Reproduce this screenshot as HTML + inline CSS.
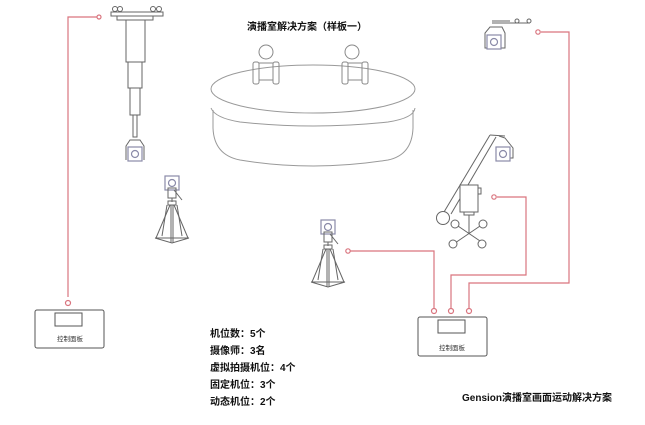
<!DOCTYPE html>
<html><head><meta charset="utf-8"><style>
html,body{margin:0;padding:0;background:#fff;}
svg{display:block;}
text{font-family:"Liberation Sans","Noto Sans CJK SC",sans-serif;}
</style></head><body>
<svg width="645" height="425" viewBox="0 0 645 425" xmlns="http://www.w3.org/2000/svg">
<rect width="645" height="425" fill="#fff"/>
<defs>
<g id="cam"><rect x="-7" y="-7" width="14" height="14" fill="#fff" stroke="#8a8aa8" stroke-width="1.2"/><circle cx="0" cy="0" r="3.5" fill="none" stroke="#8a8aa8" stroke-width="1.2"/></g>
<g id="tripod" stroke="#666" stroke-width="1" fill="none">
<rect x="-4" y="0" width="8" height="10"/><line x1="2" y1="2" x2="10" y2="12"/>
<line x1="0" y1="10" x2="0" y2="14"/><rect x="-4" y="13" width="8" height="4"/>
<line x1="-2" y1="17" x2="-16" y2="50"/><line x1="2" y1="17" x2="16" y2="50"/>
<line x1="-1" y1="17" x2="-1" y2="55"/><line x1="1" y1="17" x2="1" y2="55"/>
<line x1="-5" y1="17" x2="-10" y2="48"/><line x1="5" y1="17" x2="10" y2="48"/>
<polyline points="-17,50 0,55 17,50 -17,50"/>
</g>
</defs>

<g stroke="#d9747e" stroke-width="1.2" fill="none">
<polyline points="97,17 68,17 68,297"/>
<circle cx="99" cy="17" r="2" fill="#fff"/>
<circle cx="68" cy="303" r="2.5" fill="#fff"/>
<polyline points="350,251 434,251 434,308"/>
<circle cx="348" cy="251" r="2.2" fill="#fff"/>
<circle cx="434" cy="311" r="2.5" fill="#fff"/>
<polyline points="451,308 451,275 526,275 526,197 497,197"/>
<circle cx="494" cy="197" r="2.2" fill="#fff"/>
<circle cx="451" cy="311" r="2.5" fill="#fff"/>
<polyline points="469,308 469,283 569,283 569,32 541,32"/>
<circle cx="538" cy="32" r="2.2" fill="#fff"/>
<circle cx="469" cy="311" r="2.5" fill="#fff"/>
</g>

<g stroke="#555" stroke-width="1" fill="#fff">
<rect x="35" y="310" width="69" height="38" rx="2"/>
<rect x="55" y="313" width="27" height="13"/>
<rect x="418" y="317" width="69" height="39" rx="2"/>
<rect x="438" y="320" width="27" height="13"/>
</g>
<text x="70" y="341" font-size="6.5" text-anchor="middle" fill="#333">控制面板</text>
<text x="452" y="350" font-size="6.5" text-anchor="middle" fill="#333">控制面板</text>

<text x="307" y="30" font-size="10" font-weight="bold" text-anchor="middle" fill="#111">演播室解决方案（样板一）</text>

<g stroke="#999" stroke-width="1" fill="none">
<path d="M213,110 L213,128 Q214,155 240,160 Q313,172 388,160 Q412,155 413,128 L413,110"/>
<path d="M211,108 Q215,118 240,122 Q313,130 388,122 Q414,118 415,108"/>
<ellipse cx="313" cy="89" rx="102" ry="24" fill="#fff"/>
</g>
<g stroke="#888" stroke-width="1" fill="none">
<circle cx="266" cy="52" r="7"/>
<rect x="253" y="62" width="6" height="22" rx="2"/>
<rect x="273" y="62" width="6" height="22" rx="2"/>
<line x1="259" y1="63" x2="273" y2="63"/><line x1="259" y1="80" x2="273" y2="80"/>
<circle cx="352" cy="52" r="7"/>
<rect x="342" y="62" width="6" height="22" rx="2"/>
<rect x="362" y="62" width="6" height="22" rx="2"/>
<line x1="348" y1="63" x2="362" y2="63"/><line x1="348" y1="80" x2="362" y2="80"/>
</g>

<g stroke="#666" stroke-width="1" fill="#fff">
<circle cx="115" cy="9" r="2.5"/><circle cx="120" cy="9" r="2.5"/>
<circle cx="153" cy="9" r="2.5"/><circle cx="159" cy="9" r="2.5"/>
<rect x="111" y="12" width="52" height="4"/>
<rect x="117" y="16" width="36" height="4"/>
<rect x="126" y="20" width="19" height="42"/>
<rect x="128" y="62" width="14" height="26"/>
<rect x="130" y="88" width="10" height="27"/>
<rect x="133" y="115" width="4" height="22"/>
<path d="M126,160 L126,146 L130,140 L140,140 L144,146 L144,160"/>
</g>
<use href="#cam" x="135" y="154"/>

<use href="#cam" x="172" y="183"/>
<use href="#tripod" x="172" y="188"/>
<use href="#cam" x="328" y="227"/>
<use href="#tripod" x="328" y="232"/>

<g stroke="#666" stroke-width="1" fill="#fff">
<line x1="492" y1="23" x2="530" y2="23"/>
<line x1="492" y1="21" x2="510" y2="21"/>
<circle cx="517" cy="21" r="2"/><circle cx="529" cy="21" r="2"/>
<path d="M485,48 L485,33 L490,27 L502,27 L505,33 L505,48 Z"/>
</g>
<use href="#cam" x="494" y="42"/>

<g stroke="#666" stroke-width="1" fill="#fff">
<line x1="444" y1="212" x2="490" y2="135"/>
<line x1="451" y1="214" x2="496" y2="137"/>
<line x1="490" y1="135" x2="505" y2="136"/>
<path d="M499,136 L505,138 L513,148 L513,158 L502,158"/>
<circle cx="443" cy="218" r="6.5"/>
<rect x="460" y="185" width="18" height="27"/>
<rect x="478" y="188" width="3" height="6"/>
<rect x="464" y="212" width="10" height="3"/>
<line x1="469" y1="215" x2="469" y2="234"/>
<line x1="455" y1="224" x2="483" y2="243"/>
<line x1="483" y1="224" x2="455" y2="243"/>
<circle cx="455" cy="224" r="4"/><circle cx="483" cy="224" r="4"/>
<circle cx="453" cy="244" r="4"/><circle cx="482" cy="244" r="4"/>
</g>
<use href="#cam" x="503" y="154"/>

<g font-size="10" font-weight="bold" fill="#111">
<text x="210" y="337">机位数：5个</text>
<text x="210" y="354">摄像师：3名</text>
<text x="210" y="371">虚拟拍摄机位：4个</text>
<text x="210" y="388">固定机位：3个</text>
<text x="210" y="405">动态机位：2个</text>
</g>
<text x="462" y="401" font-size="10" font-weight="bold" fill="#111">Gension演播室画面运动解决方案</text>
</svg>
</body></html>
